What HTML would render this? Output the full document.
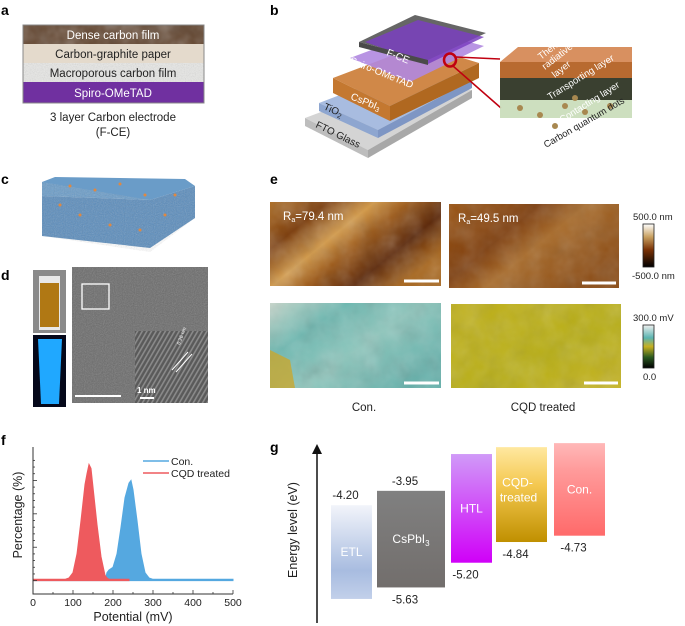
<!DOCTYPE html>
<html><head><meta charset="utf-8"><style>
html,body{margin:0;padding:0;background:#fff;}
svg{display:block;font-family:"Liberation Sans",Arial,sans-serif;}
</style></head><body>
<svg id="fig" width="685" height="626" viewBox="0 0 685 626" xmlns="http://www.w3.org/2000/svg">
<defs>
<filter id="noise" x="0" y="0" width="100%" height="100%"><feTurbulence type="fractalNoise" baseFrequency="0.9" numOctaves="2" seed="3"/><feColorMatrix type="saturate" values="0"/><feComponentTransfer><feFuncA type="table" tableValues="0 0.35"/></feComponentTransfer><feComposite in2="SourceGraphic" operator="in"/></filter>
<filter id="blob" x="0" y="0" width="100%" height="100%"><feTurbulence type="fractalNoise" baseFrequency="0.05" numOctaves="3" seed="7"/><feColorMatrix type="saturate" values="0"/><feComponentTransfer><feFuncA type="table" tableValues="0 0.5"/></feComponentTransfer><feComposite in2="SourceGraphic" operator="in"/></filter>
<linearGradient id="afm1" x1="0" y1="0" x2="1" y2="0.6"><stop offset="0" stop-color="#b06a1a"/><stop offset="0.25" stop-color="#7a3a08"/><stop offset="0.45" stop-color="#d49a48"/><stop offset="0.6" stop-color="#9a5410"/><stop offset="0.8" stop-color="#5a2404"/><stop offset="1" stop-color="#a86418"/></linearGradient>
<linearGradient id="afm2" x1="0" y1="0" x2="1" y2="0.6"><stop offset="0" stop-color="#9a5412"/><stop offset="0.4" stop-color="#7e3c0a"/><stop offset="0.6" stop-color="#a86a28"/><stop offset="1" stop-color="#8a4a12"/></linearGradient>
<linearGradient id="kp1" x1="0" y1="0" x2="1" y2="0.7"><stop offset="0" stop-color="#c8d8cc"/><stop offset="0.3" stop-color="#6ab8b0"/><stop offset="0.6" stop-color="#8cc6bc"/><stop offset="1" stop-color="#62b0aa"/></linearGradient>
<linearGradient id="kp2" x1="0" y1="0" x2="1" y2="1"><stop offset="0" stop-color="#c2b21a"/><stop offset="0.6" stop-color="#b8ae14"/><stop offset="1" stop-color="#c6b420"/></linearGradient>
<linearGradient id="cb1" x1="0" y1="0" x2="0" y2="1"><stop offset="0" stop-color="#ffffff"/><stop offset="0.3" stop-color="#c8a060"/><stop offset="0.6" stop-color="#7a3206"/><stop offset="1" stop-color="#000"/></linearGradient>
<linearGradient id="cb2" x1="0" y1="0" x2="0" y2="1"><stop offset="0" stop-color="#f0f0f0"/><stop offset="0.3" stop-color="#5ab4b0"/><stop offset="0.5" stop-color="#c8b020"/><stop offset="0.75" stop-color="#2a5a20"/><stop offset="1" stop-color="#000"/></linearGradient>
<linearGradient id="gETL" x1="0" y1="0" x2="0" y2="1"><stop offset="0" stop-color="#f2f4fa"/><stop offset="0.7" stop-color="#a8bce0"/><stop offset="1" stop-color="#c2d0ea"/></linearGradient>
<linearGradient id="gCs" x1="0" y1="0" x2="0" y2="1"><stop offset="0" stop-color="#808080"/><stop offset="1" stop-color="#726e6c"/></linearGradient>
<linearGradient id="gHTL" x1="0" y1="0" x2="0" y2="1"><stop offset="0" stop-color="#d09af8"/><stop offset="1" stop-color="#d000f8"/></linearGradient>
<linearGradient id="gCQD" x1="0" y1="0" x2="0" y2="1"><stop offset="0" stop-color="#ffe8a0"/><stop offset="0.4" stop-color="#f4c850"/><stop offset="1" stop-color="#c09000"/></linearGradient>
<linearGradient id="gCon" x1="0" y1="0" x2="0" y2="1"><stop offset="0" stop-color="#ffb8b8"/><stop offset="0.3" stop-color="#ff9a9a"/><stop offset="1" stop-color="#ff6a6a"/></linearGradient>
<pattern id="lat" width="4" height="4" patternUnits="userSpaceOnUse" patternTransform="rotate(-60)"><rect width="4" height="4" fill="#5a5a5a"/><rect width="4" height="1.6" fill="#8a8a8a"/></pattern>
</defs>

<!-- panel a -->
<g>
<text x="1" y="15" font-size="14" font-weight="bold">a</text>
<rect x="23" y="25" width="181" height="19" fill="#5a3a22"/>
<rect x="23" y="25" width="181" height="19" fill="#a07a5a" filter="url(#blob)"/>
<rect x="23" y="44" width="181" height="19" fill="#e4dacc"/>
<rect x="23" y="63" width="181" height="19" fill="#e8e8e6"/>
<rect x="23" y="63" width="181" height="19" fill="#999" filter="url(#noise)"/>
<rect x="23" y="82" width="181" height="21" fill="#7030a0"/>
<rect x="23" y="25" width="181" height="78" fill="none" stroke="#888" stroke-width="1"/>
<g font-size="11.5" text-anchor="middle">
<text x="113" y="39" fill="#fff">Dense carbon film</text>
<text x="113" y="58" fill="#222">Carbon-graphite paper</text>
<text x="113" y="77" fill="#222">Macroporous carbon film</text>
<text x="113" y="97" fill="#fff">Spiro-OMeTAD</text>
<text x="113" y="121" fill="#222">3 layer Carbon electrode</text>
<text x="113" y="136" fill="#222">(F-CE)</text>
</g>
</g>

<!-- panel b -->
<g font-size="10">
<text x="270" y="15" font-size="14" font-weight="bold">b</text>
<!-- FTO -->
<polygon points="305,118 409,79 472,90 368,150" fill="#d4d4d4"/>
<polygon points="305,118 368,150 368,158 305,126" fill="#bdbdbd"/>
<polygon points="368,150 472,90 472,98 368,158" fill="#a8a8a8"/>
<!-- TiO2 -->
<polygon points="319,103 413,67 472,80 378,130" fill="#a8bce0"/>
<polygon points="319,103 378,130 378,138 319,111" fill="#8ea6d0"/>
<polygon points="378,130 472,80 472,88 378,138" fill="#7e96c4"/>
<!-- CsPbI3 -->
<polygon points="333,78 420,45 479,63 390,106" fill="#d08848"/>
<polygon points="333,78 390,106 390,121 333,93" fill="#c47830"/>
<polygon points="390,106 479,63 479,78 390,121" fill="#b06820"/>
<!-- Spiro -->
<polygon points="350,58 425,30 484,46 410,82" fill="#b088e0" opacity="0.9"/>
<!-- F-CE -->
<polygon points="359,42 415,15 486,33 428,60" fill="#666"/>
<polygon points="365,42 418,20 484,37 428,64" fill="#7a40c0" opacity="0.85"/>
<polygon points="359,42 428,60 428,65 359,47" fill="#4a4a4a"/>
<text x="386" y="55" fill="#fff" transform="rotate(22 386 55)">F-CE</text>
<text x="349" y="63" fill="#fff" transform="rotate(22 349 63)">Spiro-OMeTAD</text>
<text x="350" y="99" fill="#fff" transform="rotate(22 350 99)">CsPbI<tspan font-size="7" dy="2">3</tspan></text>
<text x="323" y="109" fill="#222" transform="rotate(24 323 109)">TiO<tspan font-size="7" dy="2">2</tspan></text>
<text x="315" y="127" fill="#222" transform="rotate(26 315 127)">FTO Glass</text>
<ellipse cx="450" cy="60" rx="6" ry="6.5" fill="none" stroke="#c00010" stroke-width="2.5"/>
<line x1="456" y1="57" x2="500" y2="59" stroke="#c00010" stroke-width="1.5"/>
<line x1="453" y1="66" x2="501" y2="108" stroke="#c00010" stroke-width="1.5"/>
<!-- right block -->
<polygon points="500,100 632,100 632,118 500,118" fill="#c8dcb8" opacity="0.9"/>
<polygon points="500,78 632,78 632,100 500,100" fill="#3a4030"/>
<polygon points="500,62 632,62 632,78 500,78" fill="#b86a30"/>
<polygon points="500,62 518,47 632,47 632,62" fill="#d89060"/>
<g fill="#a88850"><circle cx="520" cy="108" r="3"/><circle cx="540" cy="115" r="3"/><circle cx="565" cy="106" r="3"/><circle cx="585" cy="112" r="3"/><circle cx="610" cy="106" r="3"/><circle cx="555" cy="126" r="3"/><circle cx="575" cy="98" r="3"/></g>
<g fill="#fff" font-size="9.5">
<text x="541" y="60" transform="rotate(-38 541 60)">Thermal</text>
<text x="545" y="70" transform="rotate(-38 545 70)">radiative</text>
<text x="555" y="78" transform="rotate(-38 555 78)">layer</text>
<text x="550" y="100" transform="rotate(-32 550 100)">Transporting layer</text>
<text x="562" y="123" transform="rotate(-32 562 123)">Contacting layer</text>
</g>
<text x="546" y="148" font-size="9.5" fill="#222" transform="rotate(-30 546 148)">Carbon quantum dots</text>
</g>

<!-- panel c -->
<g>
<text x="1" y="184" font-size="14" font-weight="bold">c</text>
<polygon points="42,182 55,177 185,179 195,186 150,200 42,196" fill="#6a9cc8"/>
<polygon points="42,196 150,200 195,186 195,218 150,248 42,236" fill="#5a8cbc"/>
<polygon points="42,182 150,200 195,186 195,218 150,252 42,236" fill="#335" filter="url(#noise)"/>
<g fill="#e08840"><circle cx="70" cy="186" r="1.5"/><circle cx="95" cy="190" r="1.5"/><circle cx="120" cy="184" r="1.5"/><circle cx="145" cy="195" r="1.5"/><circle cx="80" cy="215" r="1.5"/><circle cx="110" cy="225" r="1.5"/><circle cx="140" cy="230" r="1.5"/><circle cx="165" cy="215" r="1.5"/><circle cx="60" cy="205" r="1.5"/><circle cx="175" cy="195" r="1.5"/></g>
</g>

<!-- panel d -->
<g>
<text x="1" y="280" font-size="14" font-weight="bold">d</text>
<rect x="33" y="270" width="33" height="63" fill="#8a8a8a"/>
<rect x="39" y="276" width="21" height="54" fill="#e8e8e8"/>
<rect x="40" y="283" width="19" height="44" fill="#b07814"/>
<rect x="33" y="335" width="33" height="72" fill="#05081a"/>
<polygon points="38,339 62,339 59,404 41,404" fill="#20a8ff"/>
<rect x="72" y="267" width="136" height="136" fill="#6a6a6a"/>
<rect x="72" y="267" width="136" height="136" fill="#000" filter="url(#noise)"/>
<rect x="82" y="284" width="27" height="25" fill="none" stroke="#fff" stroke-width="1.3"/>
<rect x="135" y="331" width="73" height="72" fill="url(#lat)"/>
<line x1="75" y1="396" x2="121" y2="396" stroke="#fff" stroke-width="2"/>
<line x1="140" y1="398" x2="154" y2="398" stroke="#fff" stroke-width="2"/>
<text x="137" y="393" font-size="8" font-weight="bold" fill="#fff">1 nm</text>
<line x1="172" y1="370" x2="188" y2="352" stroke="#fff" stroke-width="1"/><line x1="176" y1="372" x2="192" y2="354" stroke="#fff" stroke-width="1"/>
<text x="180" y="345" font-size="5" fill="#fff" transform="rotate(-70 180 345)">0.26 nm</text>
</g>

<!-- panel e -->
<g>
<text x="270" y="184" font-size="14" font-weight="bold">e</text>
<rect x="270" y="202" width="171" height="84" fill="url(#afm1)"/>
<rect x="270" y="202" width="171" height="84" fill="#fff" filter="url(#blob)" opacity="0.6"/>
<rect x="449" y="204" width="170" height="84" fill="url(#afm2)"/>
<rect x="449" y="204" width="170" height="84" fill="#fff" filter="url(#blob)" opacity="0.5"/>
<rect x="270" y="303" width="171" height="85" fill="url(#kp1)"/>
<rect x="270" y="303" width="171" height="85" fill="#fff" filter="url(#blob)" opacity="0.6"/>
<polygon points="270,350 290,360 295,388 270,388" fill="#c8a830" opacity="0.8"/>
<rect x="451" y="304" width="170" height="84" fill="url(#kp2)"/>
<rect x="451" y="304" width="170" height="84" fill="#2a6040" filter="url(#blob)" opacity="0.5"/>
<g stroke="#fff" stroke-width="3">
<line x1="404" y1="281" x2="439" y2="281"/><line x1="582" y1="283" x2="616" y2="283"/>
<line x1="404" y1="383" x2="439" y2="383"/><line x1="584" y1="383" x2="618" y2="383"/></g>
<text x="283" y="220" font-size="11.5" fill="#fff">R<tspan font-size="7" dy="2">a</tspan><tspan dy="-2">=79.4 nm</tspan></text>
<text x="458" y="222" font-size="11.5" fill="#fff">R<tspan font-size="7" dy="2">a</tspan><tspan dy="-2">=49.5 nm</tspan></text>
<rect x="643" y="224" width="11" height="43" fill="url(#cb1)" stroke="#222" stroke-width="0.8"/>
<rect x="643" y="325" width="11" height="43" fill="url(#cb2)" stroke="#222" stroke-width="0.8"/>
<g font-size="9.5" fill="#222">
<text x="633" y="220">500.0 nm</text><text x="632" y="279">-500.0 nm</text>
<text x="633" y="321">300.0 mV</text><text x="643" y="380">0.0</text></g>
<g font-size="11.5" fill="#222" text-anchor="middle">
<text x="364" y="411">Con.</text>
<text x="543" y="411">CQD treated</text></g>
</g>

<!-- panel f -->
<g id="pf">
<text x="1" y="445" font-size="14" font-weight="bold">f</text>
</g>
<!-- panel g -->
<g id="pg">
<text x="270" y="452" font-size="14" font-weight="bold">g</text>
</g>
</svg>
<script>
const potentials = [0,80,90,100,110,120,130,135,140,145,150,160,170,180,185,190,200,210,220,230,240,245,250,260,270,280,290,300,500];
const conValues  = [0,0,0,0,0,0,0,0,0,0,0,0,0,0.0,0.06,0.08,0.1,0.2,0.4,0.62,0.73,0.75,0.68,0.45,0.2,0.06,0.02,0.01,0.01];
const cqdValues  = [0.01,0.01,0.02,0.06,0.2,0.45,0.72,0.8,0.87,0.84,0.7,0.42,0.18,0.04,0.02,0.01,0.01,0.01,0.01,0.01,0.01,null,null,null,null,null,null,null,null];
const xTicks = [0,100,200,300,400,500];
const NS='http://www.w3.org/2000/svg';
function mk(tag, attrs, parent){const e=document.createElementNS(NS,tag);for(const k in attrs)e.setAttribute(k,attrs[k]);parent.appendChild(e);return e;}
const pf=document.getElementById('pf');
const X0=33,X1=233,Y0=594,Y1=447;
const xs=v=>X0+(v-0)/(500-0)*(X1-X0);
const ys=v=>Y0-(v-(-0.1))/(1.0-(-0.1))*(Y0-Y1);
function area(vals,color,name){
  let pts=[];let last=null;
  potentials.forEach((p,i)=>{if(vals[i]!==null){pts.push(xs(p)+','+ys(vals[i]));last=p;}});
  const first=potentials[0];
  const d='M'+xs(first)+','+ys(0)+' L'+pts.join(' L')+' L'+xs(last)+','+ys(0)+' Z';
  const a=mk('path',{d:d,fill:color,stroke:color,'stroke-width':1},pf);
  
  
}
area(conValues,'#55a8e0','con-distribution');
area(cqdValues,'#ee5a5e','cqd-distribution');
const ax=mk('path',{d:`M${X0},${Y1} L${X0},${Y0} L${X1},${Y0}`,fill:'none',stroke:'#333','stroke-width':1},pf);


for(let v=0;v<=0.9001;v+=0.05){const y=ys(v);const big=Math.round(v*20)%5===0;mk('line',{x1:X0,x2:X0+(big?4:2),y1:y,y2:y,stroke:'#333','stroke-width':0.8},pf);}
for(let v=0;v<=500;v+=50){const big=v%100===0;mk('line',{x1:xs(v),x2:xs(v),y1:Y0,y2:Y0-(big?4:2),stroke:'#333','stroke-width':0.8},pf);}
xTicks.forEach(t=>{const tx=mk('text',{x:xs(t),y:Y0+12,'font-size':10.5,'text-anchor':'middle',fill:'#222'},pf);tx.textContent=t;

});
let t=mk('text',{x:133,y:621,'font-size':12.5,'text-anchor':'middle',fill:'#222'},pf);t.textContent='Potential (mV)';


t=mk('text',{x:0,y:0,'font-size':12.5,'text-anchor':'middle',fill:'#222',transform:'translate(22,515) rotate(-90)'},pf);t.textContent='Percentage (%)';


[['Con.','#55a8e0',461],['CQD treated','#ee5a5e',473]].forEach(l=>{
  mk('line',{x1:143,x2:169,y1:l[2],y2:l[2],stroke:l[1],'stroke-width':1.5},pf);
  const lt=mk('text',{x:171,y:l[2]+4,'font-size':10.5,fill:'#222'},pf);lt.textContent=l[0];
  
  
});

// panel g
const layerNames = ['ETL','CsPbI3','HTL','CQD-treated','Con.'];
const topEnergies = [-4.20,-3.95,-3.31,-3.19,-3.12];
const bottomEnergies = [-5.83,-5.63,-5.20,-4.84,-4.73];
const topLabels = ['-4.20','-3.95','','',''];
const bottomLabels = ['','-5.63','-5.20','-4.84','-4.73'];
const pg=document.getElementById('pg');
const ey=e=>537.3-57.5*(e+4.758);
const bx=[[331,372,'url(#gETL)'],[377,445,'url(#gCs)'],[451,492,'url(#gHTL)'],[496,547,'url(#gCQD)'],[554,605,'url(#gCon)']];
const arr=mk('line',{x1:317,x2:317,y1:623,y2:452,stroke:'#111','stroke-width':1.5},pg);


mk('polygon',{points:'312,454 322,454 317,444',fill:'#111'},pg);
t=mk('text',{x:0,y:0,'font-size':12.5,'text-anchor':'middle',fill:'#222',transform:'translate(297,530) rotate(-90)'},pg);t.textContent='Energy level (eV)';


layerNames.forEach((n,i)=>{
  const yt=ey(topEnergies[i]), yb=ey(bottomEnergies[i]);
  const r=mk('rect',{x:bx[i][0],y:yt,width:bx[i][1]-bx[i][0],height:yb-yt,fill:bx[i][2]},pg);
  
  
  const cx=(bx[i][0]+bx[i][1])/2;
  if(topLabels[i]){const a=mk('text',{x:cx-6,y:yt-6,'font-size':11.5,'text-anchor':'middle',fill:'#222'},pg);a.textContent=topLabels[i];
    
    }
  if(bottomLabels[i]){const b=mk('text',{x:cx-6,y:yb+16,'font-size':11.5,'text-anchor':'middle',fill:'#222'},pg);b.textContent=bottomLabels[i];
    
    }
  const mid=(yt+yb)/2;
  const lb=mk('text',{x:cx,y:mid+4,'font-size':12,'text-anchor':'middle',fill:'#fff'},pg);
  
  
  if(n==='CsPbI3'){lb.innerHTML='CsPbI<tspan font-size="8" dy="3">3</tspan>';}
  else if(n==='CQD-treated'){lb.setAttribute('y',mid-8);lb.innerHTML='<tspan x="'+(cx-4)+'">CQD-</tspan><tspan x="'+(cx-3)+'" dy="15">treated</tspan>';}
  else lb.textContent=n;
});
</script>
</body></html>
